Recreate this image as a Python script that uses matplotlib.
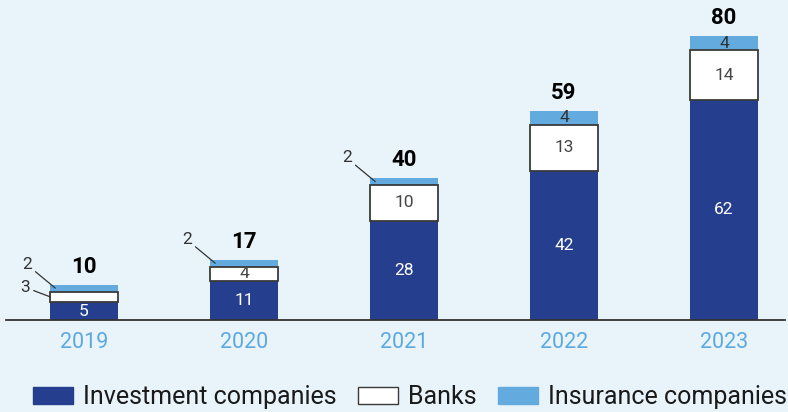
import matplotlib.pyplot as plt
from matplotlib.patches import Patch

plt.rcParams['font.family'] = ['Roboto', 'DejaVu Sans']

years = ["2019", "2020", "2021", "2022", "2023"]
investment = [5, 11, 28, 42, 62]
banks = [3, 4, 10, 13, 14]
insurance = [2, 2, 2, 4, 4]
totals = [10, 17, 40, 59, 80]

bg = "#E8F3FA"
navy = "#253F8E"
light = "#63ABDF"
edge = "#3A3A3A"

fig = plt.figure(figsize=(7.88, 4.12), dpi=100, facecolor=bg)
ax = fig.add_axes([6 / 788, 92 / 412, 782 / 788, 320 / 412])
ax.set_facecolor(bg)

x = list(range(len(years)))
w = 0.42

ax.bar(x, investment, width=w, color=navy, zorder=2)
ax.bar(x, banks, width=w, bottom=investment, color="white",
       edgecolor=edge, linewidth=1.3, zorder=3)
bottom2 = [a + b for a, b in zip(investment, banks)]
ax.bar(x, insurance, width=w, bottom=bottom2, color=light, zorder=2)

ax.set_xlim(-0.4875, 4.4)
ax.set_ylim(0, 320 / 3.55)

# labels inside the segments, small ones get a leader line instead
for i in x:
    if investment[i] >= 5:
        ax.text(i, investment[i] / 2, str(investment[i]), ha="center",
                va="center", color="white", fontsize=12.5, zorder=4)
    if banks[i] >= 4:
        ax.text(i, investment[i] + banks[i] / 2, str(banks[i]), ha="center",
                va="center", color="#444444", fontsize=12.5, zorder=4)
    if insurance[i] >= 4:
        ax.text(i, bottom2[i] + insurance[i] / 2, str(insurance[i]),
                ha="center", va="center", color="#333333", fontsize=12.5,
                zorder=4)
    ax.text(i, totals[i] + 1.9, str(totals[i]), ha="center", va="bottom",
            fontsize=16, fontweight="bold", color="black")

lead = dict(arrowstyle="-", color="#333333", lw=0.9, shrinkA=1, shrinkB=0)
for i in x:
    if insurance[i] < 4:
        ax.annotate(str(insurance[i]),
                    xy=(i - w / 2 + 0.03, bottom2[i] + insurance[i] / 2),
                    xytext=(-17, 17), textcoords="offset points",
                    ha="right", va="center", fontsize=12.5, color="#333333",
                    arrowprops=lead, zorder=5)
    if banks[i] < 4:
        ax.annotate(str(banks[i]),
                    xy=(i - w / 2, investment[i] + banks[i] / 2),
                    xytext=(-15, 7), textcoords="offset points",
                    ha="right", va="center", fontsize=12.5, color="#333333",
                    arrowprops=lead, zorder=5)

for s in ["top", "right", "left"]:
    ax.spines[s].set_visible(False)
ax.spines["bottom"].set_color("#333333")
ax.spines["bottom"].set_linewidth(1.3)
ax.spines["bottom"].set_bounds(-0.4875, 4.38)
ax.set_yticks([])
ax.set_xticks(x)
ax.set_xticklabels(years)
ax.tick_params(axis="x", length=0, pad=9, labelsize=15.5, labelcolor="#5DA9DD")

handles = [Patch(facecolor=navy, edgecolor=navy),
           Patch(facecolor="white", edgecolor=edge, linewidth=1.0),
           Patch(facecolor=light, edgecolor=light)]
labels = ["Investment companies", "Banks", "Insurance companies"]
fig.legend(handles, labels, ncol=3, frameon=False, loc="center",
           bbox_to_anchor=(410 / 788, 1 - 397 / 412), fontsize=18,
           handlelength=1.6, handleheight=0.7, handletextpad=0.4,
           columnspacing=0.85, labelcolor="#1A1A1A", borderpad=0,
           borderaxespad=0)

fig.savefig("out.png", dpi=100, facecolor=bg)
